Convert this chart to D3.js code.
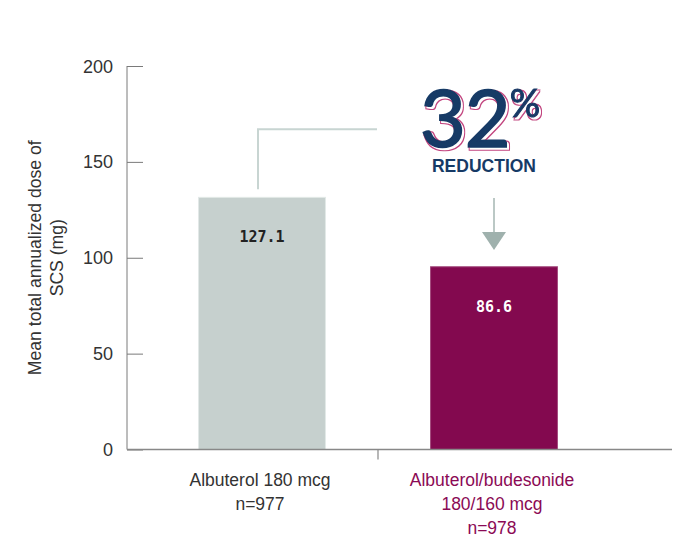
<!DOCTYPE html>
<html><head><meta charset="utf-8">
<script src="https://cdn.jsdelivr.net/npm/d3@7"></script>
<style>body{margin:0;background:#fff}svg{display:block}</style>
</head><body>
<script>
const categories = ["Albuterol 180 mcg", "Albuterol/budesonide 180/160 mcg"];
const categoryLines = [["Albuterol 180 mcg", "n=977"], ["Albuterol/budesonide", "180/160 mcg", "n=978"]];
const values = [131.5, 95.3];          // bar heights as drawn in the picture
const valueLabels = ["127.1", "86.6"];  // printed values
const yTicks = [0, 50, 100, 150, 200];
const yTitle = ["Mean total annualized dose of", "SCS (mg)"];
const reductionLabel = "32";
const bracketLevel = 167;

const W = 680, H = 537;
const svg = d3.select("body").append("svg").attr("width", W).attr("height", H);
const font = "'Liberation Sans', Arial, Helvetica, sans-serif";

const defs = svg.append("defs");
const f = defs.append("filter").attr("id", "pinkshadow").attr("x", "-10%").attr("y", "-10%").attr("width", "130%").attr("height", "130%");
f.append("feOffset").attr("in", "SourceAlpha").attr("dx", 2).attr("dy", 2).attr("result", "off");
f.append("feMorphology").attr("in", "off").attr("operator", "dilate").attr("radius", 0.9).attr("result", "dil");
f.append("feComposite").attr("in", "dil").attr("in2", "off").attr("operator", "out").attr("result", "ring");
f.append("feFlood").attr("flood-color", "#c2457f").attr("result", "pink");
f.append("feComposite").attr("in", "pink").attr("in2", "ring").attr("operator", "in").attr("result", "pinkring");
const fm = f.append("feMerge");
fm.append("feMergeNode").attr("in", "pinkring");
fm.append("feMergeNode").attr("in", "SourceGraphic");

const y = d3.scaleLinear().domain([0, 200]).range([449.5, 66]);
const x = d3.scaleBand().domain(categories).range([146, 610]).paddingInner(0.453).paddingOuter(0.2265);
const axisX0 = 127;

// y axis
const yAxis = d3.axisRight(y).tickValues(yTicks).tickSize(16).tickFormat("");
const ga = svg.append("g").attr("transform", `translate(${axisX0},0)`).call(yAxis);
ga.select(".domain").attr("stroke", "#7a7a7a").attr("d", `M0,${y(200)}V${y(0)}`);
ga.selectAll(".tick line").attr("stroke", "#7a7a7a");
svg.append("g").selectAll("text").data(yTicks).join("text")
  .attr("x", 113).attr("y", d => y(d) + 6.5).attr("text-anchor", "end")
  .attr("font-family", font).attr("font-size", 18).attr("fill", "#333").text(d => d);

// y title
const yt = svg.append("text").attr("transform", `translate(41,${(y(0)+y(200))/2}) rotate(-90)`)
  .attr("text-anchor", "middle").attr("font-family", font).attr("font-size", 17.6).attr("fill", "#333");
yTitle.forEach((t, i) => yt.append("tspan").attr("x", 0).attr("dy", i === 0 ? 0 : 22).text(t));

// bars
const colors = ["#c6d0ce", "#83094f"];
const strokes = ["#e2e9e7", "#a24a7c"];
svg.append("g").selectAll("rect").data(categories).join("rect")
  .attr("x", d => x(d)).attr("y", (d, i) => y(values[i]))
  .attr("width", x.bandwidth()).attr("height", (d, i) => y(0) - y(values[i]))
  .attr("fill", (d, i) => colors[i]).attr("stroke", (d, i) => strokes[i]).attr("stroke-width", 1);

// value labels
svg.append("g").selectAll("text").data(categories).join("text")
  .attr("x", d => x(d) + x.bandwidth() / 2)
  .attr("y", (d, i) => y(values[i]) + 45)
  .attr("text-anchor", "middle").attr("font-family", "'DejaVu Sans Mono', monospace")
  .attr("font-weight", "bold").attr("font-size", 15)
  .attr("fill", (d, i) => i === 0 ? "#222" : "#ffffff").text((d, i) => valueLabels[i]);

// x axis
svg.append("line").attr("x1", axisX0).attr("x2", 672).attr("y1", y(0)).attr("y2", y(0))
  .attr("stroke", "#888").attr("stroke-width", 1.5);
const midX = x(categories[1]) - (x.step() * x.paddingInner()) / 2;
svg.append("line").attr("x1", midX).attr("x2", midX).attr("y1", y(0)).attr("y2", y(0) + 10)
  .attr("stroke", "#888").attr("stroke-width", 1.2);

// category labels
const labColors = ["#333333", "#8b0a55"];
categories.forEach((c, i) => {
  const t = svg.append("text").attr("text-anchor", "middle").attr("font-family", font)
    .attr("font-size", 17.5).attr("fill", labColors[i]);
  categoryLines[i].forEach((ln, j) => t.append("tspan").attr("x", x(c) + x.bandwidth() / 2 - 2)
    .attr("y", 486 + j * 24).text(ln));
});

// bracket
const c1 = x(categories[0]) + x.bandwidth() / 2;
svg.append("path")
  .attr("d", `M${c1 - 4},${y(values[0]) - 8}V${y(bracketLevel)}H377`)
  .attr("fill", "none").attr("stroke", "#c8d5d2").attr("stroke-width", 2);

// arrow
const c2 = x(categories[1]) + x.bandwidth() / 2;
svg.append("line").attr("x1", c2).attr("x2", c2).attr("y1", 198).attr("y2", 233)
  .attr("stroke", "#a5b6b2").attr("stroke-width", 1.5);
svg.append("path").attr("d", `M${c2 - 12},232L${c2 + 12},232L${c2},250Z`).attr("fill", "#9fb1ad");

// 32%
const bigFont = "Lato, 'Open Sans', sans-serif";
const big = svg.append("text").attr("x", 420).attr("y", 147).attr("font-family", bigFont)
  .attr("font-weight", 400).attr("fill", "#163a66").attr("stroke", "#163a66").attr("stroke-width", 1.6)
  .attr("filter", "url(#pinkshadow)");
big.append("tspan").attr("font-size", 79).attr("letter-spacing", -1).text(reductionLabel);
big.append("tspan").attr("font-size", 38).attr("dx", 0).attr("dy", -30).attr("stroke-width", 1).text("%");
svg.append("text").attr("x", 484).attr("y", 172).attr("text-anchor", "middle").attr("font-family", font)
  .attr("font-weight", "bold").attr("font-size", 17.5).attr("fill", "#163a66").text("REDUCTION");
</script>
</body></html>
